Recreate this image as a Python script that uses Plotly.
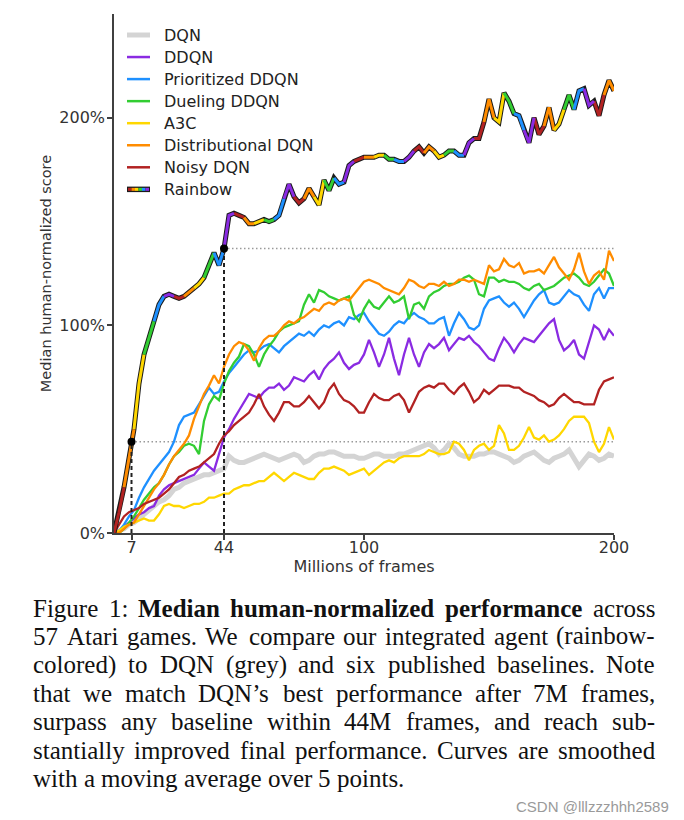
import plotly.graph_objects as go

# ---------------- data (millions of frames, median human-normalized score in %) ----------------
FRAMES = list(range(0, 201, 2))

DQN = [0, 1, 2, 4, 5, 7, 9, 11, 13, 15,
       16, 18, 21, 22, 24, 25, 26, 27, 28, 28,
       29, 30, 31, 37, 35, 34, 34, 35, 36, 37,
       38, 37, 36, 35, 36, 37, 38, 37, 34, 35,
       37, 38, 38, 39, 39, 38, 37, 37, 37, 36,
       36, 37, 38, 38, 37, 37, 37, 38, 38, 39,
       40, 41, 42, 43, 41, 38, 40, 43, 41, 38,
       37, 37, 37, 38, 38, 39, 39, 38, 37, 36,
       34, 35, 37, 38, 39, 37, 35, 34, 36, 37,
       38, 40, 36, 32, 35, 38, 37, 35, 36, 38,
       37]

DDQN = [0, 1, 3, 5, 7, 9, 10, 12, 13, 18,
        21, 23, 24, 25, 26, 27, 28, 31, 34, 32,
        30, 38, 46, 50, 55, 59, 63, 67, 66, 65,
        68, 70, 70, 72, 69, 71, 75, 74, 73, 76,
        78, 74, 79, 82, 84, 87, 82, 79, 81, 82,
        86, 93, 87, 80, 86, 94, 84, 76, 86, 94,
        86, 80, 87, 91, 89, 91, 94, 88, 91, 94,
        93, 95, 92, 90, 87, 84, 83, 89, 94, 91,
        87, 91, 94, 93, 92, 95, 98, 101, 103, 93,
        88, 90, 93, 86, 84, 92, 100, 98, 93, 98,
        95]

PRIORITIZED_DDQN = [0, 1, 4, 8, 11, 17, 22, 26, 30, 33,
                    36, 39, 44, 52, 56, 57, 58, 62, 66, 70,
                    67, 68, 73, 77, 80, 83, 86, 88, 87, 88,
                    90, 91, 89, 87, 90, 92, 94, 96, 95, 97,
                    95, 98, 100, 99, 101, 102, 100, 104, 103, 105,
                    106, 102, 99, 96, 95, 97, 100, 102, 101, 104,
                    106, 104, 103, 101, 101, 103, 104, 95, 101, 106,
                    103, 99, 98, 100, 108, 112, 113, 114, 111, 109,
                    111, 108, 104, 108, 112, 115, 117, 111, 110, 111,
                    114, 117, 115, 114, 110, 107, 115, 118, 113, 118,
                    118]

DUELING_DDQN = [0, 0, 2, 5, 8, 12, 16, 19, 22, 24,
                28, 33, 37, 39, 42, 43, 42, 38, 54, 62,
                66, 64, 72, 78, 82, 85, 91, 90, 86, 80,
                86, 90, 93, 97, 99, 100, 101, 102, 110, 115,
                111, 117, 116, 114, 113, 112, 113, 114, 105, 102,
                108, 112, 109, 108, 111, 114, 111, 112, 114, 103,
                110, 111, 108, 114, 116, 117, 119, 120, 120, 121,
                123, 124, 122, 115, 114, 123, 123, 121, 122, 121,
                121, 120, 118, 117, 119, 120, 117, 118, 119, 121,
                123, 124, 125, 123, 120, 119, 121, 124, 127, 125,
                119]

A3C = [0, 1, 3, 4, 5, 6, 7, 6, 6, 9,
       13, 14, 13, 13, 12, 13, 14, 14, 15, 17,
       17, 18, 19, 19, 21, 22, 23, 23, 24, 25,
       25, 27, 29, 27, 25, 27, 29, 28, 27, 26,
       26, 29, 31, 31, 32, 31, 30, 28, 29, 30,
       31, 28, 30, 32, 34, 35, 34, 36, 37, 37,
       37, 37, 38, 40, 39, 38, 38, 39, 44, 43,
       40, 35, 40, 42, 43, 40, 42, 52, 48, 40,
       40, 42, 46, 51, 46, 45, 47, 44, 45, 47,
       50, 54, 56, 56, 56, 53, 44, 39, 43, 51,
       45]

DISTRIBUTIONAL_DQN = [0, 0, 2, 4, 5, 9, 13, 17, 21, 24,
                      28, 33, 37, 40, 43, 47, 55, 61, 67, 71,
                      76, 72, 80, 86, 90, 92, 91, 88, 83, 89,
                      93, 95, 95, 97, 100, 102, 101, 103, 104, 106,
                      108, 107, 110, 111, 110, 112, 113, 112, 115, 118,
                      121, 122, 121, 120, 118, 117, 116, 115, 118, 122,
                      121, 119, 118, 120, 120, 119, 121, 119, 120, 122,
                      122, 121, 122, 121, 120, 129, 126, 127, 132, 129,
                      128, 130, 125, 126, 126, 127, 125, 129, 133, 128,
                      125, 122, 127, 135, 126, 120, 124, 126, 122, 136,
                      131]

NOISY_DQN = [0, 4, 8, 10, 11, 12, 14, 15, 16, 17,
             19, 21, 24, 27, 28, 30, 31, 32, 34, 36,
             38, 43, 47, 49, 52, 54, 56, 58, 62, 67,
             61, 57, 54, 58, 63, 63, 61, 61, 63, 66,
             63, 60, 63, 69, 72, 67, 64, 63, 61, 58,
             58, 63, 67, 65, 64, 64, 66, 67, 64, 58,
             63, 68, 70, 71, 70, 72, 72, 69, 67, 70,
             72, 68, 63, 65, 69, 67, 69, 71, 71, 71,
             70, 70, 68, 67, 66, 64, 63, 61, 62, 65,
             67, 65, 63, 63, 62, 62, 62, 69, 73, 74,
             75]

RAINBOW = [0, 10, 22, 36, 50, 72, 86, 94, 102, 110,
           114, 115, 114, 113, 114, 116, 118, 120, 123, 129,
           135, 129, 137, 153, 154, 153, 152, 149, 149, 150,
           151, 150, 151, 153, 161, 168, 162, 159, 161, 166,
           162, 158, 170, 165, 171, 168, 169, 177, 179, 180,
           181, 181, 181, 182, 182, 180, 180, 179, 179, 181,
           184, 186, 183, 186, 184, 181, 182, 184, 184, 182,
           182, 188, 190, 190, 198, 209, 200, 198, 212, 208,
           202, 201, 194, 188, 200, 192, 196, 205, 194, 197,
           204, 211, 204, 213, 214, 206, 208, 201, 211, 218,
           213]

X_TICKS = [7, 44, 100, 200]
X_TICK_LABELS = ["7", "44", "100", "200"]
Y_TICKS = [0, 100, 200]
Y_TICK_LABELS = ["0%", "100%", "200%"]

MATCH_FRAMES = 7       # Rainbow matches DQN's best
DQN_BEST = 44
SURPASS_FRAMES = 44    # Rainbow surpasses every baseline
BASELINE_BEST = 137

SERIES_NAMES = ["DQN", "DDQN", "Prioritized DDQN", "Dueling DDQN", "A3C",
                "Distributional DQN", "Noisy DQN", "Rainbow"]

CAPTION_LINES = [
    [("Figure", False), ("1:", False), ("Median", True), ("human-normalized", True),
     ("performance", True), ("across", False)],
    "57 Atari games. We compare our integrated agent (rainbow-",
    "colored) to DQN (grey) and six published baselines. Note",
    "that we match DQN\u2019s best performance after 7M frames,",
    "surpass any baseline within 44M frames, and reach sub-",
    "stantially improved final performance. Curves are smoothed",
    "with a moving average over 5 points.",
]

# ---------------- styling ----------------
COLORS = {
    "DQN": "#d4d4d4",
    "DDQN": "#8a2be2",
    "Prioritized DDQN": "#1e90ff",
    "Dueling DDQN": "#32cd32",
    "A3C": "#ffd700",
    "Distributional DQN": "#ff8c00",
    "Noisy DQN": "#b22222",
}
RAINBOW_COLORS = ["#b22222", "#ff8c00", "#ffd700", "#32cd32", "#1e90ff", "#8a2be2"]

W, H = 684, 820
PLOT_L, PLOT_R, PLOT_T, PLOT_B = 114, 614, 14, 533
AX_COLOR = "#404040"
TXT_COLOR = "#333333"
FONT = "DejaVu Sans"


def px(xp):
    return (xp - PLOT_L) / (PLOT_R - PLOT_L)


def py(yp):
    return (PLOT_B - yp) / (PLOT_B - PLOT_T)


fig = go.Figure()

# dotted reference levels
fig.add_trace(go.Scatter(x=[MATCH_FRAMES, FRAMES[-1]], y=[DQN_BEST, DQN_BEST], mode="lines",
                         line=dict(color="#9a9a9a", width=1.5, dash="1.5px,2.5px"),
                         showlegend=False, hoverinfo="skip"))
fig.add_trace(go.Scatter(x=[SURPASS_FRAMES, FRAMES[-1]], y=[BASELINE_BEST, BASELINE_BEST], mode="lines",
                         line=dict(color="#9a9a9a", width=1.5, dash="1.5px,2.5px"),
                         showlegend=False, hoverinfo="skip"))

baselines = [("DQN", DQN, 5), ("DDQN", DDQN, 2.3), ("Prioritized DDQN", PRIORITIZED_DDQN, 2.3),
             ("Dueling DDQN", DUELING_DDQN, 2.3), ("A3C", A3C, 2.3),
             ("Distributional DQN", DISTRIBUTIONAL_DQN, 2.3), ("Noisy DQN", NOISY_DQN, 2.3)]
for name, vals, w in baselines:
    fig.add_trace(go.Scatter(x=FRAMES, y=vals, mode="lines", name=name,
                             line=dict(color=COLORS[name], width=w), showlegend=False))

# Rainbow: black outline + cycling colours
fig.add_trace(go.Scatter(x=FRAMES, y=RAINBOW, mode="lines", name="Rainbow",
                         line=dict(color="#1a1a1a", width=5), showlegend=False))
SEG = 2
for ci, col in enumerate(RAINBOW_COLORS):
    xs, ys = [], []
    for start in range(0, len(FRAMES) - 1, SEG):
        if (start // SEG) % len(RAINBOW_COLORS) != ci:
            continue
        end = min(start + SEG, len(FRAMES) - 1)
        xs += FRAMES[start:end + 1] + [None]
        ys += RAINBOW[start:end + 1] + [None]
    fig.add_trace(go.Scatter(x=xs, y=ys, mode="lines", line=dict(color=col, width=3),
                             showlegend=False, hoverinfo="skip", connectgaps=False))

# dashed drop lines and markers
for fx, fy in [(MATCH_FRAMES, DQN_BEST), (SURPASS_FRAMES, BASELINE_BEST)]:
    fig.add_trace(go.Scatter(x=[fx, fx], y=[0, fy], mode="lines",
                             line=dict(color="#222222", width=2, dash="4px,3px"),
                             showlegend=False, hoverinfo="skip"))
fig.add_trace(go.Scatter(x=[MATCH_FRAMES, SURPASS_FRAMES], y=[DQN_BEST, BASELINE_BEST], mode="markers",
                         marker=dict(color="black", size=8), showlegend=False, hoverinfo="skip"))

# ---------------- manual legend ----------------
shapes = []
annotations = []
LEG_Y0, LEG_DY = 35, 22.05
for i, name in enumerate(SERIES_NAMES):
    yc = LEG_Y0 + i * LEG_DY
    if name == "Rainbow":
        shapes.append(dict(type="line", xref="paper", yref="paper", x0=px(127), x1=px(150),
                           y0=py(yc), y1=py(yc), line=dict(color="#1a1a1a", width=5.5)))
        segw = 21 / 6
        for k, col in enumerate(RAINBOW_COLORS):
            shapes.append(dict(type="line", xref="paper", yref="paper",
                               x0=px(128 + k * segw), x1=px(128 + (k + 1) * segw),
                               y0=py(yc), y1=py(yc), line=dict(color=col, width=3)))
    else:
        shapes.append(dict(type="line", xref="paper", yref="paper", x0=px(127), x1=px(150),
                           y0=py(yc), y1=py(yc),
                           line=dict(color=COLORS[name], width=5 if name == "DQN" else 2.5)))
    annotations.append(dict(text=name, x=px(162), y=py(yc), xref="paper", yref="paper",
                            xanchor="left", yanchor="middle", showarrow=False,
                            font=dict(family=FONT, size=16, color="#222222")))

# ---------------- caption (justified, word by word) ----------------
REG = {" ": 250, "(": 333, ")": 333, ",": 250, "-": 333, ".": 250, ":": 278, "\u2019": 333,
       "A": 722, "C": 667, "D": 722, "F": 556, "M": 889, "N": 722, "Q": 722, "W": 944,
       "a": 444, "b": 500, "c": 444, "d": 500, "e": 444, "f": 333, "g": 500, "h": 500,
       "i": 278, "j": 278, "k": 500, "l": 278, "m": 778, "n": 500, "o": 500, "p": 500,
       "q": 500, "r": 333, "s": 389, "t": 278, "u": 500, "v": 500, "w": 722, "x": 500,
       "y": 500, "z": 444}
BOLD = {"-": 333, "M": 944, "a": 500, "c": 444, "d": 556, "e": 444, "f": 333, "h": 556,
        "i": 278, "l": 278, "m": 833, "n": 556, "o": 500, "p": 556, "r": 444, "s": 389,
        "t": 333, "u": 556, "z": 444}
CAP_SIZE = 25
CAP_LEFT, CAP_RIGHT = 33, 655
CAP_Y0, CAP_DY = 608, 28.4


def word_width(word, bold):
    table = BOLD if bold else REG
    return sum(table.get(ch, 500) for ch in word) * CAP_SIZE / 1000.0


for li, line in enumerate(CAPTION_LINES):
    tokens = line if isinstance(line, list) else [(wd, False) for wd in line.split(" ")]
    widths = [word_width(wd, b) for wd, b in tokens]
    last = li == len(CAPTION_LINES) - 1
    if last:
        gap = 250 * CAP_SIZE / 1000.0
    else:
        gap = (CAP_RIGHT - CAP_LEFT - sum(widths)) / (len(tokens) - 1)
    xcur = CAP_LEFT
    yc = CAP_Y0 + li * CAP_DY
    for (wd, b), ww in zip(tokens, widths):
        annotations.append(dict(text=f"<b>{wd}</b>" if b else wd, x=px(xcur), y=py(yc),
                                xref="paper", yref="paper", xanchor="left", yanchor="middle",
                                showarrow=False, borderpad=0, borderwidth=0,
                                font=dict(family="Liberation Serif", size=CAP_SIZE, color="#111111")))
        xcur += ww + gap

# watermark
annotations.append(dict(text="CSDN @lllzzzhhh2589", x=px(671), y=py(806), xref="paper", yref="paper",
                        xanchor="right", yanchor="middle", showarrow=False,
                        font=dict(family="Liberation Sans", size=15, color="#9a9a9a")))

axis_common = dict(showgrid=False, zeroline=False, showline=True, linecolor=AX_COLOR, linewidth=1.5,
                   ticks="outside", ticklen=5, tickwidth=1.5, tickcolor=AX_COLOR,
                   tickfont=dict(family=FONT, size=16, color=TXT_COLOR), automargin=False)

fig.update_layout(
    width=W, height=H, autosize=False,
    margin=dict(l=PLOT_L, r=W - PLOT_R, t=PLOT_T, b=H - PLOT_B, pad=0),
    paper_bgcolor="white", plot_bgcolor="white",
    showlegend=False,
    xaxis=dict(range=[0, 200], tickvals=X_TICKS, ticktext=X_TICK_LABELS, ticklabelstandoff=-6,
               title=dict(text="Millions of frames", standoff=1,
                          font=dict(family=FONT, size=16, color=TXT_COLOR)),
               **axis_common),
    yaxis=dict(range=[0, 250], tickvals=Y_TICKS, ticktext=Y_TICK_LABELS, ticklabelstandoff=-1,
               title=dict(text="Median human-normalized score", standoff=4,
                          font=dict(family=FONT, size=14.5, color=TXT_COLOR)),
               **axis_common),
    shapes=shapes,
    annotations=annotations,
)

fig.write_html("out.html", config={"displayModeBar": False},
               post_script="document.body.style.margin='0';document.body.style.padding='0';"
                           "document.documentElement.style.overflow='hidden';")
